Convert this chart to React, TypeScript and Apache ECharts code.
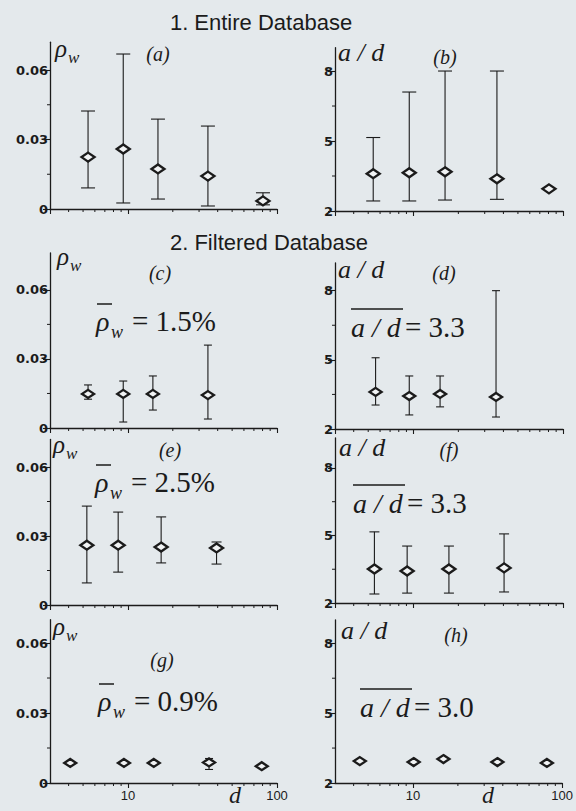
import React, { useEffect, useRef } from 'react';
import * as echarts from 'echarts';

// ---------- data ----------
// Panel (a): rho_w, entire database
const dA = [5.4, 9.3, 15.9, 34.4, 80.5];
const rhoA = [0.0224, 0.0259, 0.0173, 0.0142, 0.0035];
const rhoALow = [0.0091, 0.0026, 0.0043, 0.0013, 0.0018];
const rhoAHigh = [0.0423, 0.0669, 0.0388, 0.0358, 0.007];
// Panel (b): a/d, entire database
const dB = [5.4, 9.4, 16.3, 36.2, 80.6];
const adB = [3.6, 3.64, 3.68, 3.38, 2.95];
const adBLow = [2.43, 2.43, 2.47, 2.5, 2.95];
const adBHigh = [5.15, 7.1, 8.0, 8.0, 2.95];
// Panel (c)
const dC = [5.4, 9.3, 14.7, 34.4];
const rhoC = [0.0148, 0.0148, 0.0148, 0.0143];
const rhoCLow = [0.0125, 0.0026, 0.0078, 0.0039];
const rhoCHigh = [0.0187, 0.0204, 0.0226, 0.036];
// Panel (d)
const dD = [5.6, 9.4, 15.1, 35.7];
const adD = [3.61, 3.43, 3.52, 3.39];
const adDLow = [3.04, 2.61, 2.96, 2.52];
const adDHigh = [5.09, 4.3, 4.3, 8.0];
// Panel (e)
const dE = [5.3, 8.6, 16.7, 39.3];
const rhoE = [0.026, 0.026, 0.0252, 0.0248];
const rhoELow = [0.0096, 0.0143, 0.0183, 0.0178];
const rhoEHigh = [0.043, 0.0404, 0.0383, 0.0274];
// Panel (f)
const dF = [5.5, 9.1, 17.3, 40.4];
const adF = [3.51, 3.42, 3.51, 3.56];
const adFLow = [2.4, 2.44, 2.44, 2.49];
const adFHigh = [5.16, 4.53, 4.53, 5.07];
// Panel (g)
const dG = [4.1, 9.4, 14.9, 35, 79];
const rhoG = [0.0086, 0.0086, 0.0086, 0.0088, 0.0072];
const rhoGLow = [0.0086, 0.0086, 0.0086, 0.0058, 0.0072];
const rhoGHigh = [0.0086, 0.0086, 0.0086, 0.0105, 0.0072];
// Panel (h)
const dH = [4.4, 10.1, 16, 36.8, 79];
const adH = [2.94, 2.9, 3.03, 2.9, 2.86];
const adHLow = [2.94, 2.9, 3.03, 2.9, 2.86];
const adHHigh = [2.94, 2.9, 3.03, 2.9, 2.86];

// ticks
const rhoTicks = [0, 0.03, 0.06];
const rhoMinorTicks = [0.015, 0.045];
const adTicks = [2, 5, 8];
const adMinorTicks = [3.5, 6.5];
const xLabelTicks = [10, 100];
const xMinorTicks = [4, 5, 6, 7, 8, 9, 20, 30, 40, 50, 60, 70, 80, 90];
const xMin = 3;
const xMax = 100;

// texts
const titles = ['1. Entire Database', '2. Filtered Database'];
const panelLetters = ['(a)', '(b)', '(c)', '(d)', '(e)', '(f)', '(g)', '(h)'];
const meanRho = ['1.5%', '2.5%', '0.9%'];
const meanAd = ['3.3', '3.3', '3.0'];

const INK = '#1b1b1b';
const BG = '#e4e9ec';
const SERIF = '"Liberation Serif", "Times New Roman", serif';
const SANS = '"Liberation Sans", Arial, sans-serif';
const TICKFONT = '"DejaVu Sans", Verdana, sans-serif';

type Kind = 'rho' | 'ad';
const panels: { kind: Kind; d: number[]; v: number[]; lo: number[]; hi: number[] }[] = [
  { kind: 'rho', d: dA, v: rhoA, lo: rhoALow, hi: rhoAHigh },
  { kind: 'ad', d: dB, v: adB, lo: adBLow, hi: adBHigh },
  { kind: 'rho', d: dC, v: rhoC, lo: rhoCLow, hi: rhoCHigh },
  { kind: 'ad', d: dD, v: adD, lo: adDLow, hi: adDHigh },
  { kind: 'rho', d: dE, v: rhoE, lo: rhoELow, hi: rhoEHigh },
  { kind: 'ad', d: dF, v: adF, lo: adFLow, hi: adFHigh },
  { kind: 'rho', d: dG, v: rhoG, lo: rhoGLow, hi: rhoGHigh },
  { kind: 'ad', d: dH, v: adH, lo: adHLow, hi: adHHigh },
];

// layout (pixels / axis bounds)
const layout = [
  { left: 50, top: 42.2, width: 227, height: 166.8, yMax: 0.072, cap: 7, sym: [13, 9] },
  { left: 335, top: 47.7, width: 228, height: 163.3, yMax: 9, cap: 7, sym: [13, 9] },
  { left: 50, top: 253, width: 227, height: 175, yMax: 0.076, cap: 4, sym: [12, 8] },
  { left: 335, top: 263, width: 228, height: 166, yMax: 9.2, cap: 4, sym: [12, 8] },
  { left: 50, top: 439.4, width: 227, height: 165.6, yMax: 0.072, cap: 5, sym: [13, 9] },
  { left: 335, top: 438, width: 228, height: 165, yMax: 9.33, cap: 5, sym: [13, 9] },
  { left: 50, top: 619.7, width: 227, height: 163.3, yMax: 0.07, cap: 4, sym: [12, 8] },
  { left: 335, top: 620, width: 228, height: 163, yMax: 9, cap: 4, sym: [12, 8] },
];

const axisLabelPos = [
  { x: 55, b: 57 }, { x: 338, b: 61 },
  { x: 57, b: 265 }, { x: 338, b: 278 },
  { x: 53, b: 453 }, { x: 339, b: 456 },
  { x: 53, b: 635 }, { x: 341, b: 639 },
];
const letterPos = [
  { x: 158, y: 54 }, { x: 445, y: 57 },
  { x: 160, y: 273 }, { x: 444, y: 273 },
  { x: 170, y: 450 }, { x: 449, y: 450 },
  { x: 162, y: 660 }, { x: 456, y: 635 },
];
const rhoAnnotPos = [{ x: 96, b: 331 }, { x: 95, b: 492 }, { x: 98, b: 711 }];
const adAnnotPos = [{ x: 351, b: 337 }, { x: 353, b: 513 }, { x: 360, b: 717 }];

// text helper: place by alphabetic baseline (svg renderer uses central baseline)
function txt(text: string, x: number, base: number, size: number, opts: any = {}) {
  const ratio = opts.family === SANS ? 0.35 : 0.34;
  const align = opts.align || 'left';
  return {
    type: 'text',
    x,
    y: base - ratio * size,
    silent: true,
    style: {
      text,
      fill: INK,
      fontSize: size,
      fontFamily: opts.family || SERIF,
      fontStyle: opts.italic ? 'italic' : 'normal',
      fontWeight: opts.weight || 'normal',
      align,
      textAlign: align,
      verticalAlign: 'middle',
      textVerticalAlign: 'middle',
    },
  };
}

function hline(x1: number, x2: number, y: number, w = 1.5) {
  return { type: 'line', silent: true, shape: { x1, y1: y, x2, y2: y }, style: { stroke: INK, lineWidth: w } };
}

function buildGraphic() {
  const g: any[] = [];
  g.push(txt(titles[0], 261, 30, 22, { family: SANS, align: 'center' }));
  g.push(txt(titles[1], 269, 250, 22, { family: SANS, align: 'center' }));
  panels.forEach((p, i) => {
    const a = axisLabelPos[i];
    if (p.kind === 'rho') {
      g.push(txt('ρ', a.x, a.b, 25, { italic: true }));
      g.push(txt('w', a.x + 13, a.b + 6, 17, { italic: true }));
    } else {
      g.push(txt('a / d', a.x, a.b, 26, { italic: true }));
    }
    const l = letterPos[i];
    g.push(txt(panelLetters[i], l.x, l.y + 7, 20, { italic: true, align: 'center' }));
  });
  rhoAnnotPos.forEach((r, k) => {
    g.push(hline(r.x + 1, r.x + 16, r.b - 27));
    g.push(txt('ρ', r.x, r.b, 28, { italic: true }));
    g.push(txt('w', r.x + 15, r.b + 7, 18, { italic: true }));
    g.push(txt('= ' + meanRho[k], r.x + 36, r.b, 29));
  });
  adAnnotPos.forEach((r, k) => {
    g.push(hline(r.x, r.x + 52, r.b - 28));
    g.push(txt('a / d', r.x, r.b, 28, { italic: true }));
    g.push(txt('= ' + meanAd[k], r.x + 54, r.b, 29));
  });
  g.push(txt('d', 235, 803, 24, { italic: true, align: 'center' }));
  g.push(txt('d', 488, 803, 24, { italic: true, align: 'center' }));
  return g;
}

function errRender(cap: number) {
  return (_params: any, api: any) => {
    const x = api.value(0);
    const pLo = api.coord([x, api.value(1)]);
    const pHi = api.coord([x, api.value(2)]);
    const style = { stroke: INK, lineWidth: 1.1 };
    return {
      type: 'group',
      children: [
        { type: 'line', shape: { x1: pLo[0], y1: pLo[1], x2: pHi[0], y2: pHi[1] }, style },
        { type: 'line', shape: { x1: pLo[0] - cap, y1: pLo[1], x2: pLo[0] + cap, y2: pLo[1] }, style },
        { type: 'line', shape: { x1: pHi[0] - cap, y1: pHi[1], x2: pHi[0] + cap, y2: pHi[1] }, style },
      ],
    };
  };
}

function buildOption() {
  const grid: any[] = [];
  const xAxis: any[] = [];
  const yAxis: any[] = [];
  const series: any[] = [];
  panels.forEach((p, i) => {
    const L = layout[i];
    const yMin = p.kind === 'rho' ? 0 : 2;
    const ticks = p.kind === 'rho' ? rhoTicks : adTicks;
    const minor = p.kind === 'rho' ? rhoMinorTicks : adMinorTicks;
    const bottom = i >= 6;
    grid.push({ left: L.left, top: L.top, width: L.width, height: L.height, containLabel: false });
    xAxis.push({
      type: 'log',
      logBase: 10,
      gridIndex: i,
      min: xMin,
      max: xMax,
      axisLine: { show: true, onZero: false, lineStyle: { color: INK, width: 1.3 } },
      axisTick: { show: true, inside: false, length: 5, lineStyle: { color: INK, width: 1.1 } },
      axisLabel: {
        show: bottom,
        margin: 6,
        fontSize: 13,
        fontFamily: SANS,
        color: INK,
        showMinLabel: false,
        formatter: (v: number) =>
          xLabelTicks.some((t) => Math.abs(t - v) < 1e-6) ? String(Math.round(v)) : '',
      },
      splitLine: { show: false },
      minorTick: { show: false },
    });
    yAxis.push({
      type: 'value',
      gridIndex: i,
      min: yMin,
      max: L.yMax,
      axisLine: { show: true, onZero: false, lineStyle: { color: INK, width: 1.3 } },
      axisTick: { show: true, inside: false, length: 7, customValues: ticks, lineStyle: { color: INK, width: 1.1 } },
      axisLabel: {
        customValues: ticks,
        margin: 2,
        fontSize: 13,
        fontWeight: 'bold',
        fontFamily: TICKFONT,
        color: INK,
        formatter: (v: number) => (p.kind === 'rho' ? (v === 0 ? '0' : v.toFixed(2)) : String(Math.round(v))),
      },
      splitLine: { show: false },
    });
    series.push({
      type: 'custom',
      xAxisIndex: i,
      yAxisIndex: i,
      clip: false,
      silent: true,
      z: 2,
      renderItem: errRender(L.cap),
      data: p.d.map((x, j) => [x, p.lo[j], p.hi[j]]).filter((r) => r[1] !== r[2]),
    });
    series.push({
      type: 'scatter',
      xAxisIndex: i,
      yAxisIndex: i,
      symbol: 'diamond',
      symbolSize: L.sym,
      silent: true,
      z: 3,
      itemStyle: { color: '#f1f3f4', borderColor: INK, borderWidth: 2.4, opacity: 1 },
      data: p.d.map((x, j) => [x, p.v[j]]),
    });
    series.push({
      type: 'custom',
      xAxisIndex: i,
      yAxisIndex: i,
      clip: false,
      silent: true,
      z: 2,
      renderItem: (_pa: any, api: any) => {
        const c = api.coord([api.value(0), api.value(1)]);
        return { type: 'line', shape: { x1: c[0], y1: c[1], x2: c[0], y2: c[1] + 3 }, style: { stroke: INK, lineWidth: 1 } };
      },
      data: xMinorTicks.map((t) => [t, yMin]),
    });
    series.push({
      type: 'custom',
      xAxisIndex: i,
      yAxisIndex: i,
      clip: false,
      silent: true,
      z: 2,
      renderItem: (_pa: any, api: any) => {
        const c = api.coord([api.value(0), api.value(1)]);
        return { type: 'line', shape: { x1: c[0], y1: c[1], x2: c[0] - 3, y2: c[1] }, style: { stroke: INK, lineWidth: 1 } };
      },
      data: minor.map((t) => [xMin, t]),
    });
  });
  return {
    animation: false,
    backgroundColor: BG,
    grid,
    xAxis,
    yAxis,
    series,
    graphic: buildGraphic(),
  };
}

export default function App() {
  const ref = useRef<HTMLDivElement>(null);
  useEffect(() => {
    document.body.style.margin = '0';
    document.body.style.background = BG;
    if (!ref.current) return;
    const chart = echarts.init(ref.current, undefined, { renderer: 'svg' });
    chart.setOption(buildOption() as any);
    return () => chart.dispose();
  }, []);
  return <div ref={ref} style={{ width: 576, height: 811 }} />;
}
